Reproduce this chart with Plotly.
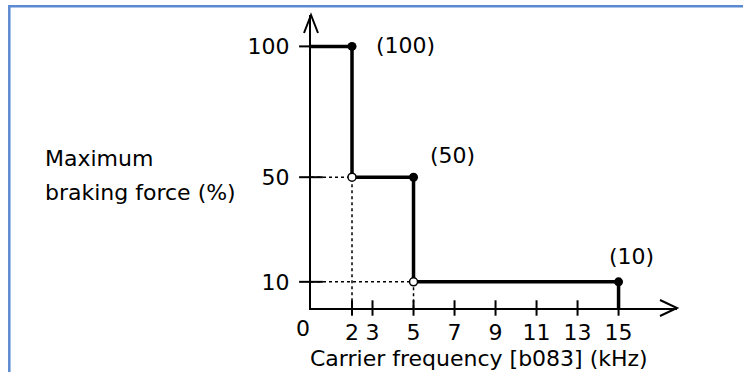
import plotly.graph_objects as go

# ---- data ----
freq_breaks = [0, 2, 5, 15]          # kHz boundaries
max_force = [100, 50, 10]            # % per segment
x_tick_vals = [2, 3, 5, 7, 9, 11, 13, 15]
x_tick_text = ["2", "3", "5", "7", "9", "11", "13", "15"]
y_tick_vals = [10, 50, 100]
y_tick_text = ["10", "50", "100"]
point_labels = ["(100)", "(50)", "(10)"]

X_MAX = 17.85
Y_MAX = 112
FONT = "DejaVu Sans"
L, R, T, B = 311, 66, 15, 64
W, H = 743, 372
PW, PH = W - L - R, H - T - B

fig = go.Figure()

# step line
step_x = freq_breaks[:1] + freq_breaks[1:] + [freq_breaks[-1]]
step_y = max_force + [max_force[-1], 0]
fig.add_trace(go.Scatter(x=step_x, y=step_y, mode="lines", line_shape="hv",
                         line=dict(color="black", width=3.5), hoverinfo="skip"))

# dotted guide lines for the lower levels
for xb, lv in zip(freq_breaks[1:-1], max_force[1:]):
    fig.add_trace(go.Scatter(x=[0, xb, xb], y=[lv, lv, 0], mode="lines",
                             line=dict(color="black", width=1.5, dash="dot"),
                             hoverinfo="skip"))

# filled end points
fig.add_trace(go.Scatter(x=freq_breaks[1:], y=max_force, mode="markers",
                         marker=dict(size=9, color="black"), cliponaxis=False,
                         hoverinfo="skip"))
# open start points
fig.add_trace(go.Scatter(x=freq_breaks[1:-1], y=max_force[1:], mode="markers",
                         marker=dict(size=8, color="white",
                                     line=dict(color="black", width=1.5)),
                         cliponaxis=False, hoverinfo="skip"))

# crossing tick marks
fig.add_trace(go.Scatter(x=x_tick_vals, y=[0] * len(x_tick_vals), mode="markers",
                         marker=dict(symbol="line-ns", size=11,
                                     line=dict(color="black", width=2)),
                         cliponaxis=False, hoverinfo="skip"))
fig.add_trace(go.Scatter(x=[0] * len(y_tick_vals), y=y_tick_vals, mode="markers",
                         marker=dict(symbol="line-ew", size=17,
                                     line=dict(color="black", width=2)),
                         cliponaxis=False, hoverinfo="skip"))

annotations = []
# point labels
offsets = [(22, 1, "left"), (14, 22, "left"), (13, 25, "center")]
for xb, lv, txt, (dx, dy, anc) in zip(freq_breaks[1:], max_force, point_labels, offsets):
    annotations.append(dict(x=xb, y=lv, xref="x", yref="y", text=txt, showarrow=False,
                            xanchor=anc, yanchor="middle", xshift=dx, yshift=dy,
                            font=dict(family=FONT, size=22, color="black")))
# origin label
annotations.append(dict(x=0, y=0, xref="x", yref="y", text="0", showarrow=False,
                        xanchor="center", yanchor="middle", xshift=-8, yshift=-20,
                        font=dict(family=FONT, size=22, color="black")))
# x title
annotations.append(dict(x=(478.5 - L) / PW, y=(H - B - 358) / PH, xref="paper", yref="paper",
                        text="Carrier frequency [b083] (kHz)", showarrow=False,
                        xanchor="center", yanchor="middle",
                        font=dict(family=FONT, size=22, color="black")))
# y title (two lines)
for txt, py in [("Maximum", 158), ("braking force (%)", 193)]:
    annotations.append(dict(x=(43 - L) / PW, y=(H - B - py) / PH, xref="paper", yref="paper",
                            text=txt, showarrow=False, xanchor="left", yanchor="middle",
                            font=dict(family=FONT, size=22, color="black")))

shapes = [
    # x-axis arrow head
    dict(type="path", xref="paper", yref="paper", xsizemode="pixel", ysizemode="pixel",
         xanchor=1, yanchor=0, path="M -17,8 L 0,0 L -17,-8",
         line=dict(color="black", width=2)),
    # y-axis arrow head
    dict(type="path", xref="paper", yref="paper", xsizemode="pixel", ysizemode="pixel",
         xanchor=0, yanchor=1, path="M -7,-18 L 0,0 L 7,-18",
         line=dict(color="black", width=2)),
    # blue frame
    dict(type="rect", xref="paper", yref="paper",
         x0=(9.3 - L) / PW, x1=2, y0=-2, y1=(H - B - 6.3) / PH,
         line=dict(color="#5b8ad2", width=2.5), fillcolor="rgba(0,0,0,0)", layer="below"),
]

fig.update_layout(
    width=W, height=H,
    margin=dict(l=L, r=R, t=T, b=B),
    paper_bgcolor="white", plot_bgcolor="white",
    showlegend=False,
    annotations=annotations,
    shapes=shapes,
    xaxis=dict(range=[0, X_MAX], showgrid=False, zeroline=False,
               showline=True, linecolor="black", linewidth=2,
               tickmode="array", tickvals=x_tick_vals, ticktext=x_tick_text,
               ticks="", ticklabelstandoff=4,
               tickfont=dict(family=FONT, size=22, color="black")),
    yaxis=dict(range=[0, Y_MAX], showgrid=False, zeroline=False,
               showline=True, linecolor="black", linewidth=2,
               tickmode="array", tickvals=y_tick_vals, ticktext=y_tick_text,
               ticks="", ticklabelstandoff=15,
               tickfont=dict(family=FONT, size=22, color="black")),
)

fig.write_html("out.html", config={"displayModeBar": False},
               post_script="document.body.style.margin='0';")
